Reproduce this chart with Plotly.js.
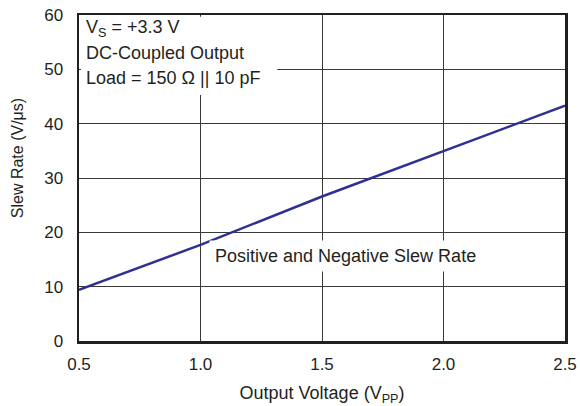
<!DOCTYPE html>
<html>
<head>
<meta charset="utf-8">
<script src="https://cdn.plot.ly/plotly-3.0.1.min.js"></script>
<style>html,body{margin:0;padding:0;background:#fff;}#chart{width:580px;height:406px;}</style>
</head>
<body>
<div id="chart"></div>
<script>
const outputVoltage = [0.5, 1.0, 1.5, 2.0, 2.5];
const slewRate = [9.4, 17.7, 26.6, 35.0, 43.3];
const xTicks = [0.5, 1.0, 1.5, 2.0, 2.5];
const xTickLabels = ['0.5', '1.0', '1.5', '2.0', '2.5'];
const yTicks = [0, 10, 20, 30, 40, 50, 60];
const infoLines = ['V<sub>S</sub> = +3.3 V', 'DC-Coupled Output', 'Load = 150 Ω || 10 pF'];
const curveLabel = 'Positive and Negative Slew Rate';
const yTitle = 'Slew Rate (V/μs)';
const xTitle = 'Output Voltage (V<sub>PP</sub>)';

const FONT = 'Liberation Sans, Arial, Helvetica, sans-serif';
const textColor = '#231f20';

const trace = {
  x: outputVoltage, y: slewRate, type: 'scatter', mode: 'lines',
  line: {color: '#2e3192', width: 2.5}, hoverinfo: 'skip', showlegend: false
};

const annotations = infoLines.map((t, i) => ({
  xref: 'paper', yref: 'paper', x: 0.011, y: 1 - (14 + i * 24.5) / 326.5,
  xanchor: 'left', yanchor: 'middle', text: t, showarrow: false,
  font: {family: FONT, size: 18, color: textColor}
}));
annotations.push({
  xref: 'x', yref: 'y', x: 1.595, y: 15.6, xanchor: 'center', yanchor: 'middle',
  text: curveLabel, showarrow: false, bgcolor: '#ffffff', borderpad: 5,
  font: {family: FONT, size: 18, color: textColor}
});
annotations.push({
  xref: 'paper', yref: 'paper', x: -0.126, y: 0.56, xanchor: 'center', yanchor: 'middle',
  text: yTitle, textangle: -90, showarrow: false,
  font: {family: FONT, size: 16, color: textColor}
});

const layout = {
  width: 580, height: 406,
  margin: {l: 79, r: 15, t: 15, b: 64.5},
  paper_bgcolor: '#ffffff', plot_bgcolor: '#ffffff',
  font: {family: FONT, size: 17, color: textColor},
  xaxis: {
    range: [0.5, 2.5], tickvals: xTicks, ticktext: xTickLabels,
    showgrid: true, gridcolor: '#3a3a3a', gridwidth: 1,
    showline: true, linecolor: '#231f20', linewidth: 2.5, mirror: true,
    ticks: '', zeroline: false, ticklabelstandoff: 6,
    tickfont: {family: FONT, size: 17, color: textColor},
    title: {text: xTitle, standoff: 14, font: {family: FONT, size: 18, color: textColor}}
  },
  yaxis: {
    range: [0, 60], tickvals: yTicks,
    showgrid: true, gridcolor: '#3a3a3a', gridwidth: 1,
    showline: true, linecolor: '#231f20', linewidth: 2.5, mirror: true,
    ticks: '', zeroline: false, ticklabelstandoff: 10,
    tickfont: {family: FONT, size: 17, color: textColor}
  },
  shapes: [{
    type: 'rect', xref: 'paper', yref: 'paper', layer: 'above',
    x0: 0.004, x1: 0.408, y0: 1 - 80 / 326.5, y1: 0.995,
    fillcolor: '#ffffff', line: {width: 0}
  }],
  annotations: annotations
};

Plotly.newPlot('chart', [trace], layout, {displayModeBar: false, staticPlot: true});
</script>
</body>
</html>
